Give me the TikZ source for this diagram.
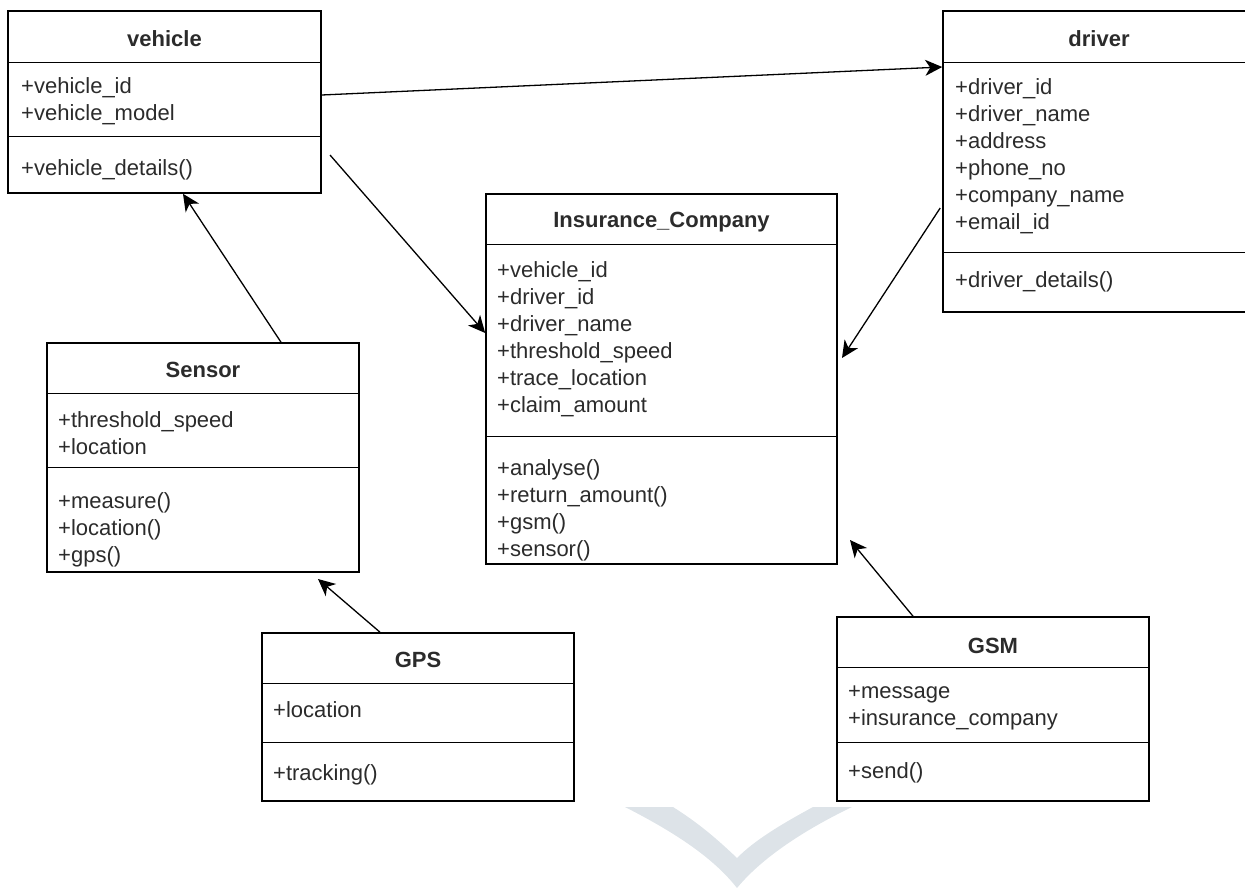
\documentclass[tikz,border=0pt]{standalone}
\usepackage{fontspec}
\setmainfont{Liberation Sans}
\usetikzlibrary{arrows.meta}

\definecolor{textgray}{HTML}{2B2B2B}
\definecolor{markgray}{HTML}{DDE3E8}

\tikzset{
	classbox/.style = {draw = black,
					   line width = 1.6pt,
					   shape = rectangle,
					   inner sep = 0pt},
	classtitle/.style = {font = \fontsize{22}{27}\selectfont\bfseries,
						 text = textgray,
						 inner sep = 0pt},
	members/.style = {font = \fontsize{22}{27}\selectfont,
					  text = textgray,
					  align = left,
					  anchor = west,
					  inner sep = 0pt},
	assoc/.style = {line width = 1.3pt,
					-{Stealth[length = 17pt, width = 16pt, inset = 5pt]}}
}

\begin{document}
\begin{tikzpicture}[x = 1pt, y = -1pt]

	\useasboundingbox (0,0) rectangle (1245,888);
	\clip (0,0) rectangle (1245,888);

	% watermark
	\fill[markgray] (625,807) .. controls (680,835) and (715,860) .. (737,888)
			.. controls (760,860) and (800,832) .. (852,807) -- (813,807)
			.. controls (780,825) and (755,840) .. (737,858)
			.. controls (718,840) and (700,824) .. (673,807) -- cycle;

	% vehicle
	\draw (164.5,102) node[classbox,
						   minimum width = 313pt,
						   minimum height = 182pt] (vehicle) {};
	\draw (8,62) -- (321,62);
	\draw (8,136) -- (321,136);
	\draw (164.5,39) node[classtitle] (vehicletitle) {vehicle};
	\draw (21,101.5) node[members] (vehicleattr) {+vehicle\_id\\+vehicle\_model};
	\draw (21,170) node[members] (vehicleops) {+vehicle\_details()};

	% driver
	\draw (1099,161.5) node[classbox,
							minimum width = 312pt,
							minimum height = 301pt] (driver) {};
	\draw (943,62) -- (1255,62);
	\draw (943,252) -- (1255,252);
	\draw (1099,39) node[classtitle] (drivertitle) {driver};
	\draw (955,156.5) node[members] (driverattr) {+driver\_id\\+driver\_name\\+address\\+phone\_no\\+company\_name\\+email\_id};
	\draw (955,282) node[members] (driverops) {+driver\_details()};

	% Insurance_Company
	\draw (661.5,379) node[classbox,
						   minimum width = 351pt,
						   minimum height = 370pt] (insurance) {};
	\draw (486,244) -- (837,244);
	\draw (486,436) -- (837,436);
	\draw (661.5,222) node[classtitle] (insurancetitle) {Insurance\_Company};
	\draw (497,339) node[members] (insuranceattr) {+vehicle\_id\\+driver\_id\\+driver\_name\\+threshold\_speed\\+trace\_location\\+claim\_amount};
	\draw (497,510) node[members] (insuranceops) {+analyse()\\+return\_amount()\\+gsm()\\+sensor()};

	% Sensor
	\draw (203,457.5) node[classbox,
						   minimum width = 312pt,
						   minimum height = 229pt] (sensor) {};
	\draw (47,393) -- (359,393);
	\draw (47,467) -- (359,467);
	\draw (203,370) node[classtitle] (sensortitle) {Sensor};
	\draw (58,433) node[members] (sensorattr) {+threshold\_speed\\+location};
	\draw (58,529.5) node[members] (sensorops) {+measure()\\+location()\\+gps()};

	% GPS
	\draw (418,717) node[classbox,
						 minimum width = 312pt,
						 minimum height = 168pt] (gps) {};
	\draw (262,683) -- (574,683);
	\draw (262,742) -- (574,742);
	\draw (418,660) node[classtitle] (gpstitle) {GPS};
	\draw (273,710) node[members] (gpsattr) {+location};
	\draw (273,775) node[members] (gpsops) {+tracking()};

	% GSM
	\draw (993,709) node[classbox,
						 minimum width = 312pt,
						 minimum height = 184pt] (gsm) {};
	\draw (837,667) -- (1149,667);
	\draw (837,742) -- (1149,742);
	\draw (993,646) node[classtitle] (gsmtitle) {GSM};
	\draw (848,707.5) node[members] (gsmattr) {+message\\+insurance\_company};
	\draw (848,773) node[members] (gsmops) {+send()};

	% free ends
	\coordinate (vehicleout) at (330,155);
	\coordinate (insuranceright) at (842,358);
	\coordinate (sensorin) at (318,579);
	\coordinate (insurancebottom) at (850,540);

	\draw[assoc] ([yshift = 7pt]vehicle.east) -- ([yshift = 94.5pt]driver.west);
	\draw[assoc] (vehicleout) -- ([yshift = 46pt]insurance.west);
	\draw[assoc] ([xshift = -2pt, yshift = -46.5pt]driver.west) -- (insuranceright);
	\draw[assoc] ([xshift = 78pt]sensor.north) -- ([xshift = 18.5pt]vehicle.south);
	\draw[assoc] ([xshift = -38pt]gps.north) -- (sensorin);
	\draw[assoc] ([xshift = -80pt]gsm.north) -- (insurancebottom);
\end{tikzpicture}
\end{document}
